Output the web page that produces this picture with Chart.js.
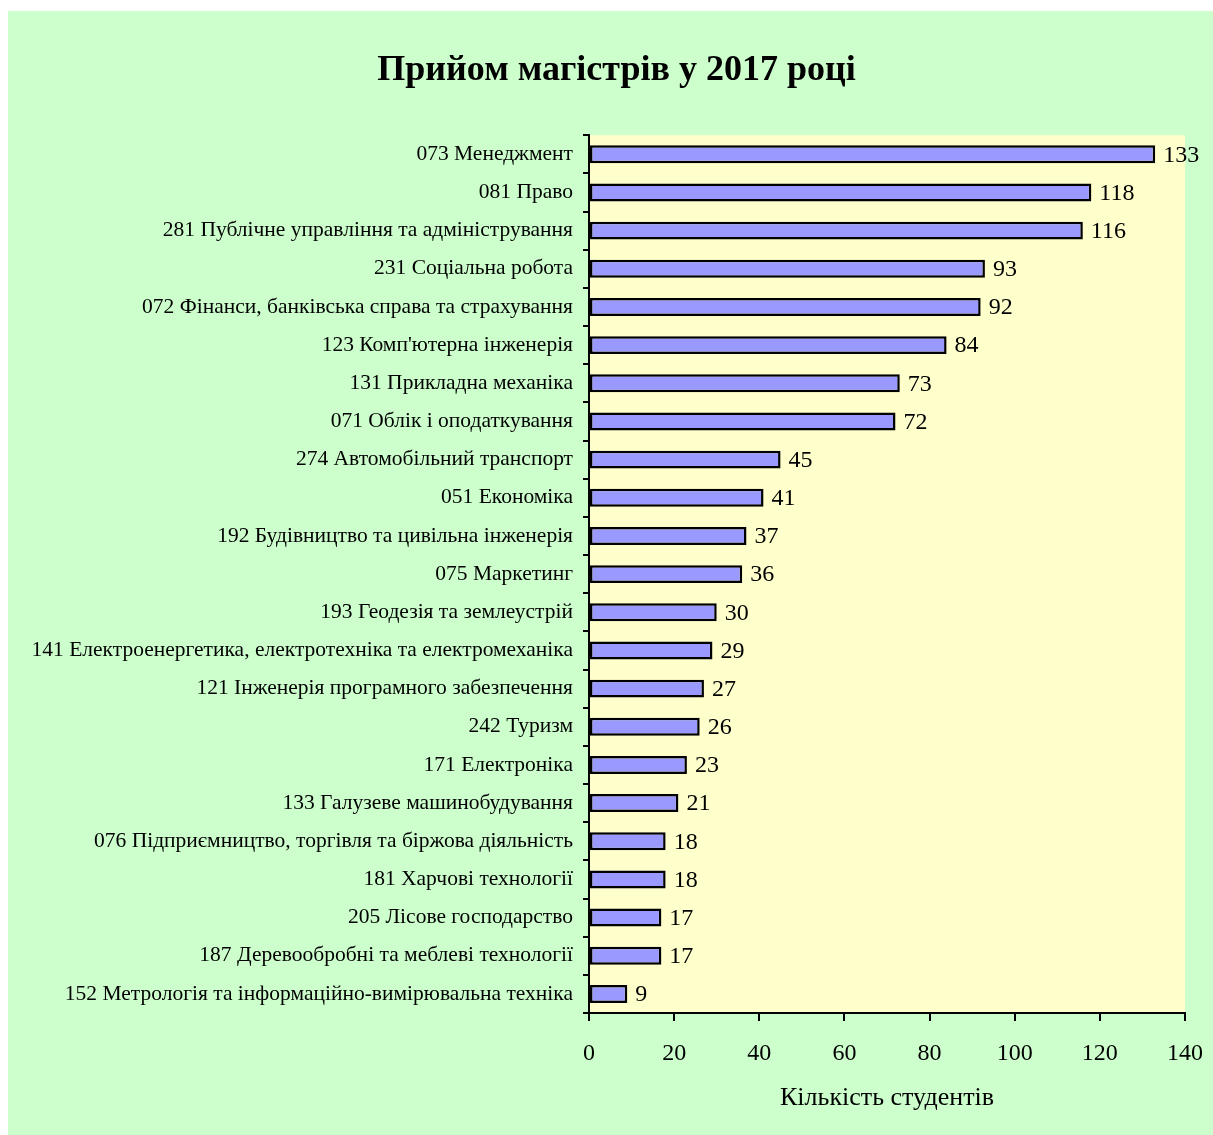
<!DOCTYPE html>
<html>
<head>
<meta charset="utf-8">
<script src="https://cdn.jsdelivr.net/npm/chart.js@4/dist/chart.umd.min.js"></script>
<style>
  html, body { margin: 0; padding: 0; background: #fff; }
  #wrap { position: absolute; left: 8px; top: 11px; width: 1205px; height: 1124px; background: #ccffcc; }
</style>
</head>
<body>
<div id="wrap"><canvas id="chart"></canvas></div>
<script>
// Прийом магістрів у 2017 році - horizontal bars

const categories = [
  '073 Менеджмент',
  '081 Право',
  '281 Публічне управління та адміністрування',
  '231 Соціальна робота',
  '072 Фінанси, банківська справа та страхування',
  '123 Комп\'ютерна інженерія',
  '131 Прикладна механіка',
  '071 Облік і оподаткування',
  '274 Автомобільний транспорт',
  '051 Економіка',
  '192 Будівництво та цивільна інженерія',
  '075 Маркетинг',
  '193 Геодезія та землеустрій',
  '141 Електроенергетика, електротехніка та електромеханіка',
  '121 Інженерія програмного забезпечення',
  '242 Туризм',
  '171 Електроніка',
  '133 Галузеве машинобудування',
  '076 Підприємництво, торгівля та біржова діяльність',
  '181 Харчові технології',
  '205 Лісове господарство',
  '187 Деревообробні та меблеві технології',
  '152 Метрологія та інформаційно-вимірювальна техніка',
];
const students = [133, 118, 116, 93, 92, 84, 73, 72, 45, 41, 37, 36, 30, 29, 27, 26, 23, 21, 18, 18, 17, 17, 9];
const xTicks = [0, 20, 40, 60, 80, 100, 120, 140];

const SERIF = '"Liberation Serif", "Times New Roman", serif';

const plotBg = {
  id: 'plotBg',
  beforeDraw(chart) {
    const { ctx, chartArea: a } = chart;
    ctx.save();
    ctx.fillStyle = '#ffffcc';
    ctx.fillRect(a.left, a.top, a.right - a.left, a.bottom - a.top);
    ctx.restore();
  }
};

const valueLabels = {
  id: 'valueLabels',
  afterDatasetsDraw(chart) {
    const { ctx } = chart;
    const meta = chart.getDatasetMeta(0);
    ctx.save();
    ctx.font = '24px ' + SERIF;
    ctx.fillStyle = '#000';
    ctx.textAlign = 'left';
    ctx.textBaseline = 'middle';
    meta.data.forEach((bar, i) => {
      ctx.fillText(String(students[i]), bar.x + 8, bar.y + 1);
    });
    ctx.restore();
  }
};

new Chart(document.getElementById('chart').getContext('2d'), {
  type: 'bar',
  data: {
    labels: categories,
    datasets: [{
      data: students,
      backgroundColor: '#9999ff',
      borderColor: '#000',
      borderWidth: 2.5,
      borderSkipped: false,
      barPercentage: 0.47,
      categoryPercentage: 1,
    }],
  },
  options: {
    indexAxis: 'y',
    responsive: true,
    maintainAspectRatio: false,
    animation: false,
    layout: { padding: { left: 12, right: 0, top: 0, bottom: 0 } },
    plugins: {
      legend: { display: false },
      tooltip: { enabled: false },
      title: {
        display: true,
        text: 'Прийом магістрів у 2017 році',
        color: '#000',
        font: { family: SERIF, size: 36, weight: 'bold' },
        padding: { top: 38, bottom: 43 },
      },
    },
    scales: {
      x: {
        type: 'linear',
        min: 0, max: 140,
        afterBuildTicks: s => { s.ticks = xTicks.map(v => ({ value: v })); },
        afterFit: s => { s.height = 122; s.paddingRight = 28; },
        ticks: { color: '#000', font: { family: SERIF, size: 24 }, padding: 18, maxRotation: 0 },
        grid: { drawOnChartArea: false, drawTicks: true, tickLength: 8, color: '#000', lineWidth: 2 },
        border: { color: '#000', width: 2 },
        title: {
          display: true,
          text: 'Кількість студентів',
          color: '#000',
          font: { family: SERIF, size: 26 },
          padding: { top: 0, bottom: 21 },
        },
      },
      y: {
        afterFit: s => { s.width = 569; },
        ticks: { color: '#000', font: { family: SERIF, size: 21.5 }, padding: 10, autoSkip: false },
        grid: { offset: true, drawOnChartArea: false, drawTicks: true, tickLength: 6, color: '#000', lineWidth: 2 },
        border: { color: '#000', width: 2 },
      },
    },
  },
  plugins: [plotBg, valueLabels],
});
</script>
</body>
</html>
